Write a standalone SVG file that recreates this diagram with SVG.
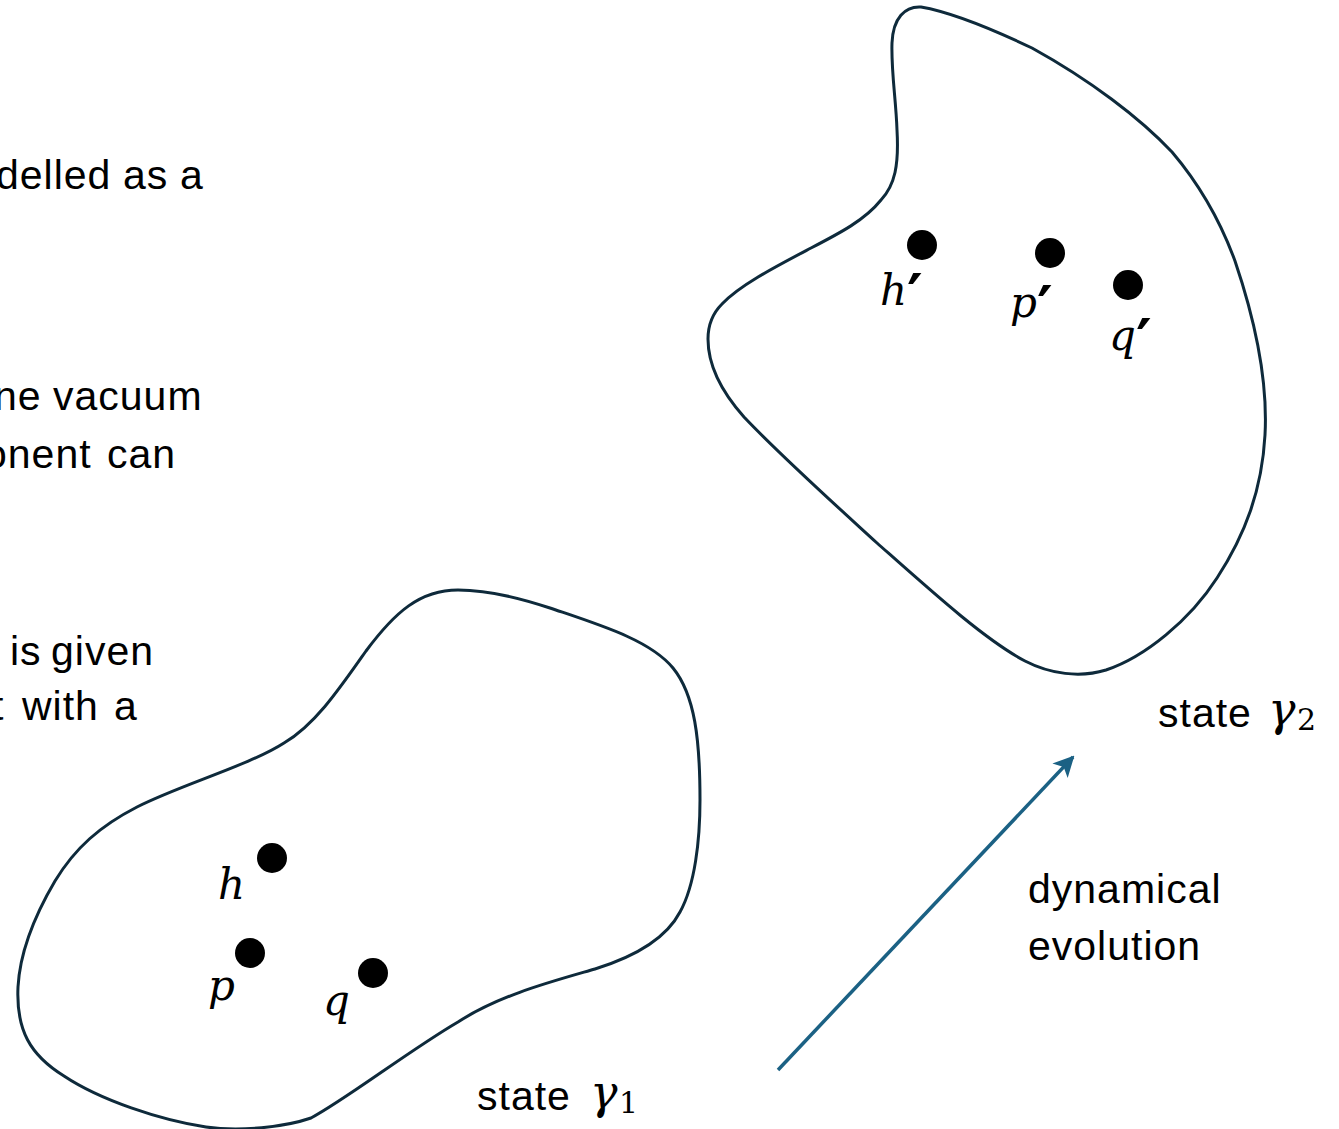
<svg xmlns="http://www.w3.org/2000/svg" width="1339" height="1129" viewBox="0 0 1339 1129">
<style>
.t{font-family:"Liberation Sans",Arial,sans-serif;font-size:41px;letter-spacing:1px;fill:#000}
.m{font-family:"DejaVu Serif","Liberation Serif",serif;font-style:italic;font-size:42px;fill:#000}
.g{font-family:"DejaVu Serif","Liberation Serif",serif;font-style:italic;font-size:46px;fill:#000}
.pr{font-family:"DejaVu Sans","Liberation Sans",sans-serif;font-style:normal;font-weight:bold;font-size:60px}
.s{font-family:"DejaVu Serif","Liberation Serif",serif;font-size:30px;fill:#000}
.blob{fill:none;stroke:#0e2a3b;stroke-width:3}
.dot{fill:#000}
</style>
<defs>
<marker id="ah" viewBox="0 0 10 10" refX="9" refY="5" markerWidth="6" markerHeight="6" orient="auto" markerUnits="strokeWidth">
<path d="M0,0 L10,5 L0,10 L2.5,5 Z" fill="#1b6184"/>
</marker>
</defs>
<rect width="1339" height="1129" fill="#fff"/>
<g id="left-text">
<text class="t" y="189"><tspan x="-4">delled</tspan><tspan x="123">as</tspan><tspan x="180">a</tspan></text>
<text class="t" y="410"><tspan x="-6">ne</tspan><tspan x="53">vacuum</tspan></text>
<text class="t" y="468"><tspan x="-16">onent</tspan><tspan x="107">can</tspan></text>
<text class="t" y="665"><tspan x="10">is</tspan><tspan x="51">given</tspan></text>
<text class="t" y="720"><tspan x="-8">t</tspan><tspan x="22">with</tspan><tspan x="114">a</tspan></text>
</g>
<g id="state1">
<path class="blob" d="M458,590 C420,590 395,612 366,651 C340,688 315,725 284,743 C250,765 180,785 137,807 C100,826 75,848 55,881 C35,915 20,950 18,987 C16,1030 30,1055 64,1076 C100,1100 160,1120 206,1127 C240,1132 285,1127 311,1118 C345,1100 410,1050 458,1022 C500,995 550,982 595,969 C640,955 668,935 680,912 C695,885 700,840 700,800 C700,740 695,695 673,668 C650,640 600,625 550,608 C520,598 490,590 458,590 Z"/>
<circle class="dot" cx="272" cy="858" r="15"/>
<circle class="dot" cx="250" cy="953" r="15"/>
<circle class="dot" cx="373" cy="973" r="15"/>
<text class="m" x="218" y="899">h</text>
<text class="m" x="208" y="1000">p</text>
<text class="m" x="323" y="1015">q</text>
<text class="t" x="477" y="1110">state</text>
<text class="g" x="590" y="1108">γ</text>
<text class="s" x="619" y="1113">1</text>
</g>
<g id="state2">
<path class="blob" d="M921,7 C905,6 893,18 892,43 C891,70 896,100 897,130 C899,165 895,185 881,200 C865,220 840,233 811,248 C775,267 740,285 722,304 C712,314 708,326 708,339 C708,365 720,390 744,417 C780,455 830,500 877,543 C930,590 985,640 1025,661 C1050,674 1080,678 1106,670 C1145,657 1190,620 1217,578 C1245,535 1262,490 1265,435 C1268,380 1255,320 1235,261 C1220,220 1200,185 1172,152 C1140,118 1090,80 1032,48 C990,28 950,12 921,7 Z"/>
<circle class="dot" cx="922" cy="245" r="15"/>
<circle class="dot" cx="1050" cy="253" r="15"/>
<circle class="dot" cx="1128" cy="285" r="15"/>
<text class="m" x="880" y="305">h<tspan class="pr" dx="0" dy="12">′</tspan></text>
<text class="m" x="1010" y="317">p<tspan class="pr" dx="0" dy="12">′</tspan></text>
<text class="m" x="1109" y="350">q<tspan class="pr" dx="0" dy="12">′</tspan></text>
<text class="t" x="1158" y="727">state</text>
<text class="g" x="1268" y="725">γ</text>
<text class="s" x="1297" y="730">2</text>
</g>
<g id="connectors">
<line x1="778" y1="1070" x2="1073" y2="757" stroke="#1b6184" stroke-width="3.5" marker-end="url(#ah)"/>
</g>
<g id="evolution-label">
<text class="t" x="1028" y="903">dynamical</text>
<text class="t" x="1028" y="960">evolution</text>
</g>
</svg>
